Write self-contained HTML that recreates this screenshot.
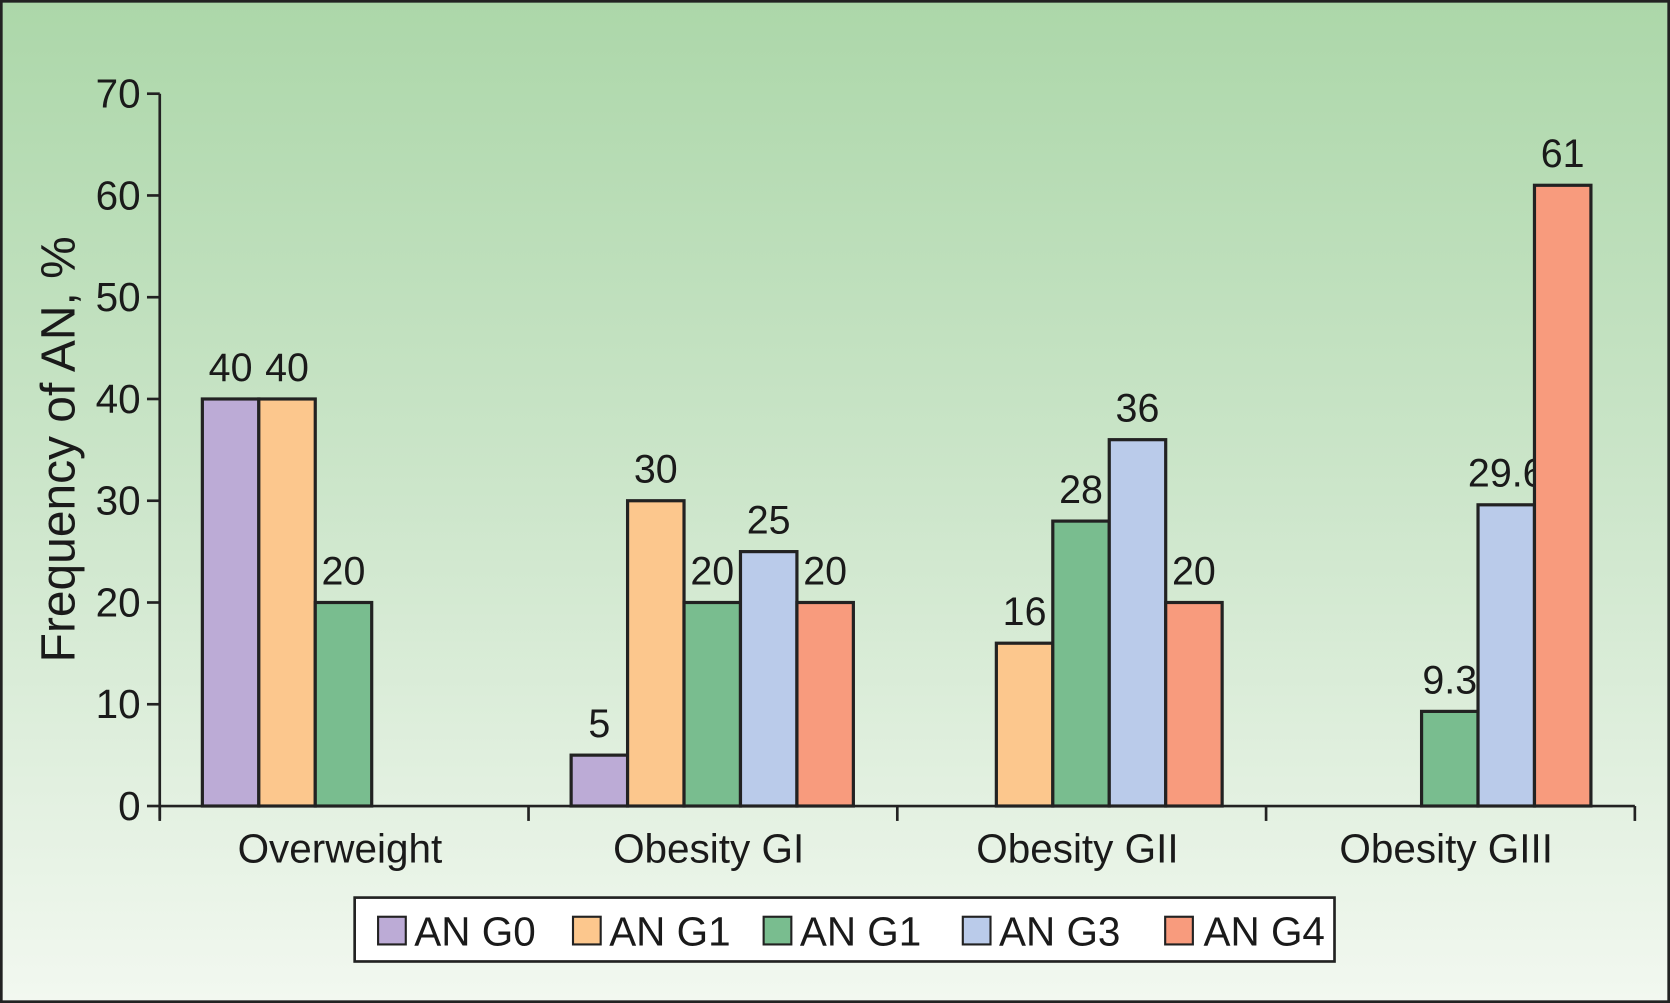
<!DOCTYPE html>
<html><head><meta charset="utf-8">
<style>
html,body{margin:0;padding:0;background:#fff;}
svg{display:block;}
text{font-family:"Liberation Sans",Arial,sans-serif;fill:#1a1a1a;}
</style></head>
<body>
<svg id="chart" width="1670" height="1003" viewBox="0 0 1568 942" preserveAspectRatio="none" xmlns="http://www.w3.org/2000/svg">
<defs>
<linearGradient id="bg" x1="0" y1="0" x2="0" y2="1">
<stop offset="0" stop-color="#acd7a9"/>
<stop offset="0.5" stop-color="#cde6cb"/>
<stop offset="1" stop-color="#f2f8f0"/>
</linearGradient>
</defs>
<rect x="1" y="1" width="1566" height="940" fill="url(#bg)" stroke="#222" stroke-width="3"/>
<g id="plot"></g>
<text transform="translate(70,422) rotate(-90)" text-anchor="middle" font-size="45">Frequency of AN, %</text>
<g id="legend">
<rect x="333" y="843" width="920" height="60" fill="#fff" stroke="#222" stroke-width="2.5"/>
</g>
</svg>
<script>
const categories = ["Overweight","Obesity GI","Obesity GII","Obesity GIII"];
const seriesNames = ["AN G0","AN G1","AN G1","AN G3","AN G4"];
const g0 = [40, 5, null, null];
const g1 = [40, 30, 16, null];
const g1b = [20, 20, 28, 9.3];
const g3 = [null, 25, 36, 29.6];
const g4 = [null, 20, 20, 61];
const yTicks = [0,10,20,30,40,50,60,70];
const series = [g0,g1,g1b,g3,g4];
const colors = ["#bcabd6","#fcc78d","#79bd8f","#bacbea","#f89b7d"];

const NS="http://www.w3.org/2000/svg";
const plot=document.getElementById('plot');
const X0=150,X1=1535,Y0=757,Ytop=88,YMAX=70;
const y=v=>Y0-(v/YMAX)*(Y0-Ytop);
const catW=(X1-X0)/categories.length;
const barW=53, off=40;
const x=(ci,si)=>X0+ci*catW+off+si*barW;
function mk(tag,attrs,parent){const e=document.createElementNS(NS,tag);for(const k in attrs)e.setAttribute(k,attrs[k]);(parent||plot).appendChild(e);return e;}

let ax=mk('line',{x1:X0,y1:Ytop,x2:X0,y2:Y0+12,stroke:'#222','stroke-width':2.5});


ax=mk('line',{x1:X0,y1:Y0,x2:X1,y2:Y0,stroke:'#222','stroke-width':2.5});


yTicks.forEach(t=>{
  mk('line',{x1:X0-12,y1:y(t),x2:X0,y2:y(t),stroke:'#222','stroke-width':2.5});
  const tx=mk('text',{x:X0-18,y:y(t)+13,'text-anchor':'end','font-size':38});
  tx.textContent=t;
  
  
});
for(let i=0;i<=categories.length;i++){
  mk('line',{x1:X0+i*catW,y1:Y0,x2:X0+i*catW,y2:Y0+14,stroke:'#222','stroke-width':2.5});
}
categories.forEach((c,ci)=>{
  const tx=mk('text',{x:X0+ci*catW+catW/2-4,y:810,'text-anchor':'middle','font-size':38});
  tx.textContent=c;
  
  
  series.forEach((s,si)=>{
    const v=s[ci]; if(v==null) return;
    const r=mk('rect',{x:x(ci,si),y:y(v),width:barW,height:Y0-y(v),fill:colors[si],stroke:'#222','stroke-width':3});
    
    
    const l=mk('text',{x:x(ci,si)+barW/2,y:y(v)-17,'text-anchor':'middle','font-size':37});
    l.textContent=v;
    
    
  });
});
const leg=document.getElementById('legend');
const lx=[355,538,717,904,1094];
seriesNames.forEach((n,i)=>{
  const g=mk('g',{},leg);
  
  
  mk('rect',{x:lx[i],y:861,width:26,height:26,fill:colors[i],stroke:'#222','stroke-width':2},g);
  const t=mk('text',{x:lx[i]+(i==4?36:34),y:888,'font-size':38},g);
  t.textContent=n;
});
</script>
</body></html>
